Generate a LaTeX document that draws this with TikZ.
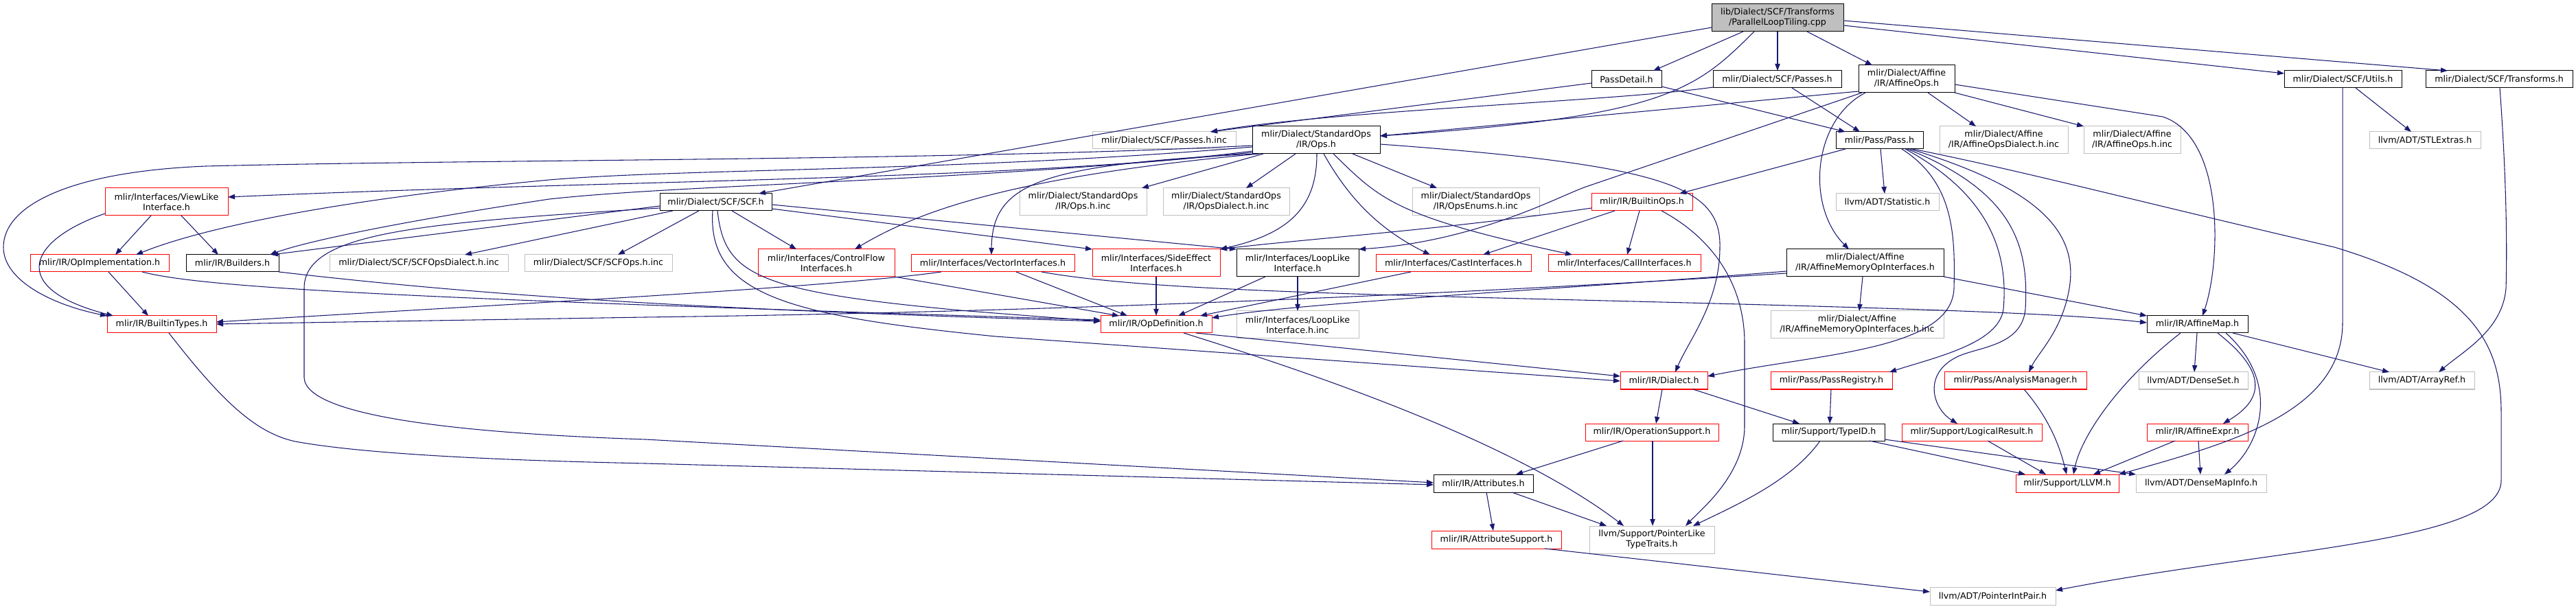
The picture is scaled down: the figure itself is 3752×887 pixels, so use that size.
\documentclass[tikz,border=0pt]{standalone}
\usepackage{fontspec}
\setmainfont{DejaVu Sans}
\usetikzlibrary{arrows.meta}
\definecolor{edgec}{HTML}{191970}
\definecolor{grey75}{HTML}{BFBFBF}
\newcommand\mybox[7]{\node[#6, minimum width={(#3-#2)*0.75pt}, minimum height={(#5-#4)*0.75pt}] (#1) at ({(#2+#3)/2},{(#4+#5)/2}) {#7};}
\tikzset{
  nb/.style={draw, line width=0.75pt, inner sep=0pt, outer sep=0pt, align=center, fill=white, font=\fontsize{9.5pt}{11.25pt}\selectfont},
  nk/.style={nb, draw=black},
  nr/.style={nb, draw=red},
  ng/.style={nb, draw=grey75},
  lnk/.style={draw=edgec, line width=0.8pt, -{Triangle[length=7.5pt,width=5.5pt]}}
}
\begin{document}
\begin{tikzpicture}[x=0.75pt, y=-0.75pt]
\useasboundingbox (0,0) rectangle (3752,887);
% nodes
\mybox{root}{2493}{2685}{6}{46}{nk,fill=grey75}{lib/Dialect/SCF/Transforms\\/ParallelLoopTiling.cpp}
\mybox{pdet}{2318}{2420}{103}{128}{nk}{PassDetail.h}
\mybox{scfpass}{2495}{2682}{103}{128}{nk}{mlir/Dialect/SCF/Passes.h}
\mybox{affops}{2707}{2847}{95}{135}{nk}{mlir/Dialect/Affine\\/IR/AffineOps.h}
\mybox{utils}{3327}{3498}{103}{128}{nk}{mlir/Dialect/SCF/Utils.h}
\mybox{transf}{3533}{3747}{103}{128}{nk}{mlir/Dialect/SCF/Transforms.h}
\mybox{passinc}{1591}{1800}{192}{217}{ng}{mlir/Dialect/SCF/Passes.h.inc}
\mybox{stdops}{1824}{2010}{184}{224}{nk}{mlir/Dialect/StandardOps\\/IR/Ops.h}
\mybox{pass}{2674}{2801}{192}{217}{nk}{mlir/Pass/Pass.h}
\mybox{affdinc}{2825}{3012}{184}{224}{ng}{mlir/Dialect/Affine\\/IR/AffineOpsDialect.h.inc}
\mybox{affinc}{3035}{3176}{184}{224}{ng}{mlir/Dialect/Affine\\/IR/AffineOps.h.inc}
\mybox{stlx}{3451}{3613}{192}{217}{ng}{llvm/ADT/STLExtras.h}
\mybox{viewlike}{153}{332}{274}{314}{nr}{mlir/Interfaces/ViewLike\\Interface.h}
\mybox{scf}{961}{1124}{282}{307}{nk}{mlir/Dialect/SCF/SCF.h}
\mybox{opsinc}{1485}{1670}{274}{314}{ng}{mlir/Dialect/StandardOps\\/IR/Ops.h.inc}
\mybox{opsdinc}{1694}{1878}{274}{314}{ng}{mlir/Dialect/StandardOps\\/IR/OpsDialect.h.inc}
\mybox{opseinc}{2057}{2242}{274}{314}{ng}{mlir/Dialect/StandardOps\\/IR/OpsEnums.h.inc}
\mybox{bops}{2318}{2465}{282}{307}{nr}{mlir/IR/BuiltinOps.h}
\mybox{stat}{2674}{2824}{282}{307}{ng}{llvm/ADT/Statistic.h}
\mybox{opimpl}{44}{246}{371}{396}{nr}{mlir/IR/OpImplementation.h}
\mybox{builders}{271}{406}{371}{396}{nk}{mlir/IR/Builders.h}
\mybox{scfdinc}{480}{740}{371}{396}{ng}{mlir/Dialect/SCF/SCFOpsDialect.h.inc}
\mybox{scfinc}{764}{979}{371}{396}{ng}{mlir/Dialect/SCF/SCFOps.h.inc}
\mybox{cflow}{1104}{1303}{363}{403}{nr}{mlir/Interfaces/ControlFlow\\Interfaces.h}
\mybox{vecif}{1327}{1565}{371}{396}{nr}{mlir/Interfaces/VectorInterfaces.h}
\mybox{sideeff}{1591}{1777}{363}{403}{nr}{mlir/Interfaces/SideEffect\\Interfaces.h}
\mybox{looplike}{1801}{1979}{363}{403}{nk}{mlir/Interfaces/LoopLike\\Interface.h}
\mybox{cast}{2004}{2230}{371}{396}{nr}{mlir/Interfaces/CastInterfaces.h}
\mybox{call}{2255}{2477}{371}{396}{nr}{mlir/Interfaces/CallInterfaces.h}
\mybox{amoi}{2602}{2831}{363}{403}{nk}{mlir/Dialect/Affine\\/IR/AffineMemoryOpInterfaces.h}
\mybox{btypes}{156}{315}{460}{485}{nr}{mlir/IR/BuiltinTypes.h}
\mybox{opdef}{1603}{1765}{460}{485}{nr}{mlir/IR/OpDefinition.h}
\mybox{loopinc}{1801}{1979}{453}{493}{ng}{mlir/Interfaces/LoopLike\\Interface.h.inc}
\mybox{amoiinc}{2579}{2831}{453}{493}{ng}{mlir/Dialect/Affine\\/IR/AffineMemoryOpInterfaces.h.inc}
\mybox{affmap}{3127}{3274}{460}{485}{nk}{mlir/IR/AffineMap.h}
\mybox{dialect}{2360}{2487}{542}{567}{nr}{mlir/IR/Dialect.h}
\mybox{passreg}{2579}{2756}{542}{567}{nr}{mlir/Pass/PassRegistry.h}
\mybox{anamgr}{2832}{3039}{542}{567}{nr}{mlir/Pass/AnalysisManager.h}
\mybox{denseset}{3115}{3274}{542}{567}{ng}{llvm/ADT/DenseSet.h}
\mybox{arrayref}{3451}{3604}{542}{567}{ng}{llvm/ADT/ArrayRef.h}
\mybox{opsupp}{2309}{2503}{617}{642}{nr}{mlir/IR/OperationSupport.h}
\mybox{typeid}{2582}{2745}{617}{642}{nk}{mlir/Support/TypeID.h}
\mybox{logres}{2770}{2974}{617}{642}{nr}{mlir/Support/LogicalResult.h}
\mybox{affexpr}{3127}{3274}{617}{642}{nr}{mlir/IR/AffineExpr.h}
\mybox{attrs}{2088}{2233}{691}{717}{nk}{mlir/IR/Attributes.h}
\mybox{llvm}{2936}{3086}{691}{717}{nr}{mlir/Support/LLVM.h}
\mybox{densemap}{3111}{3301}{691}{717}{ng}{llvm/ADT/DenseMapInfo.h}
\mybox{attrsupp}{2085}{2274}{773}{799}{nr}{mlir/IR/AttributeSupport.h}
\mybox{ptrlike}{2315}{2497}{766}{806}{ng}{llvm/Support/PointerLike\\TypeTraits.h}
\mybox{ptrint}{2811}{2994}{855}{881}{ng}{llvm/ADT/PointerIntPair.h}
% edges
\draw[lnk] (root.west |- 0,40) -- (scf.north -| 1105,0);
\draw[lnk] (root.south -| 2539,0) -- (pdet.north -| 2408,0);
\draw[lnk] (root.south -| 2555,0) .. controls (2470,130) and (2430,170) .. (stdops.east |- 0,198);
\draw[lnk] (root.south -| 2589,0) -- (scfpass.north -| 2589,0);
\draw[lnk] (root.south -| 2632,0) -- (affops.north -| 2727,0);
\draw[lnk] (root.east |- 0,37) -- (utils.west |- 0,107);
\draw[lnk] (root.east |- 0,30) -- (transf.north -| 3565,0);
\draw[lnk] (pdet.west |- 0,121) -- (passinc.north -| 1763,0);
\draw[lnk] (pdet.east |- 0,126) -- (pass.north -| 2688,0);
\draw[lnk] (scfpass.west |- 0,127) .. controls (2350,148) and (1950,160) .. (passinc.north -| 1763,0);
\draw[lnk] (scfpass.south -| 2610,0) -- (pass.north -| 2709,0);
\draw[lnk] (affops.west |- 0,133) -- (stdops.east |- 0,198);
\draw[lnk] (affops.south -| 2808,0) -- (affdinc.north -| 2878,0);
\draw[lnk] (affops.south east) -- (affinc.north west);
\draw[lnk] (affops.east |- 0,123) -- (3150,170) .. controls (3240,200) and (3235,380) .. (affmap.north -| 3208,0);
\draw[lnk] (affops.south -| 2717,0) .. controls (2640,175) and (2630,300) .. (amoi.north -| 2693,0);
\draw[lnk] (affops.south -| 2712,0) -- (2310,272) .. controls (2270,286) and (2150,352) .. (looplike.north east);
\draw[lnk] (utils.south -| 3431,0) -- (stlx.north -| 3512,0);
\draw[lnk] (utils.south -| 3412,0) -- (3412,470) .. controls (3412,600) and (3250,645) .. (llvm.north east);
\draw[lnk] (transf.south -| 3641,0) .. controls (3650,250) and (3652,350) .. (3650,420) .. controls (3645,480) and (3590,510) .. (arrayref.north -| 3552,0);
\draw[lnk] (pass.south -| 2688,0) -- (bops.north -| 2446,0);
\draw[lnk] (pass.south -| 2739,0) -- (stat.north -| 2745,0);
\draw[lnk] (pass.south -| 2770,0) .. controls (2845,265) and (2848,340) .. (2846,420) .. controls (2843,510) and (2650,515) .. (dialect.east |- 0,548);
\draw[lnk] (pass.south -| 2775,0) .. controls (2900,285) and (2925,370) .. (2918,450) .. controls (2912,500) and (2820,520) .. (passreg.north -| 2752,0);
\draw[lnk] (pass.south -| 2778,0) .. controls (2935,280) and (2955,360) .. (2950,450) .. controls (2945,505) and (2880,505) .. (2850,520) .. controls (2800,545) and (2815,595) .. (logres.north -| 2851,0);
\draw[lnk] (pass.south -| 2782,0) .. controls (2990,280) and (3030,350) .. (3012,430) .. controls (3000,485) and (2968,515) .. (anamgr.north -| 2955,0);
\draw[lnk] (pass.south -| 2786,0) .. controls (2950,250) and (3100,290) .. (3400,360) .. controls (3600,420) and (3643,500) .. (3643,600) -- (3643,700) .. controls (3643,790) and (3300,800) .. (ptrint.east |- 0,860);
\draw[lnk] (bops.west |- 0,303) .. controls (2100,335) and (1900,348) .. (sideeff.north east);
\draw[lnk] (bops.south -| 2352,0) -- (cast.north -| 2160,0);
\draw[lnk] (bops.south -| 2388,0) -- (call.north -| 2370,0);
\draw[lnk] (bops.south -| 2420,0) .. controls (2500,350) and (2541,420) .. (2541,500) -- (2541,620) .. controls (2541,690) and (2480,740) .. (ptrlike.north -| 2455,0);
\draw[lnk] (stdops.west |- 0,220) .. controls (1500,262) and (900,262) .. (viewlike.east |- 0,287);
\draw[lnk] (stdops.west |- 0,214) .. controls (1400,250) and (1000,245) .. (800,262) .. controls (500,290) and (300,330) .. (opimpl.north -| 198,0);
\draw[lnk] (stdops.west |- 0,222) .. controls (1400,265) and (1000,268) .. (800,290) .. controls (600,320) and (450,350) .. (builders.north -| 393,0);
\draw[lnk] (stdops.west |- 0,212) .. controls (1400,234) and (700,232) .. (300,242) .. controls (100,250) and (5,300) .. (5,360) .. controls (5,410) and (80,445) .. (btypes.north west);
\draw[lnk] (stdops.south -| 1887,0) -- (opsdinc.north -| 1815,0);
\draw[lnk] (stdops.south -| 1840,0) -- (opsinc.north -| 1663,0);
\draw[lnk] (stdops.south -| 1970,0) -- (opseinc.north -| 2093,0);
\draw[lnk] (stdops.south -| 1828,0) .. controls (1520,240) and (1445,265) .. (vecif.north -| 1444,0);
\draw[lnk] (stdops.south -| 1834,0) .. controls (1500,255) and (1350,300) .. (cflow.north -| 1245,0);
\draw[lnk] (stdops.south -| 1918,0) .. controls (1918,300) and (1880,340) .. (sideeff.north east);
\draw[lnk] (stdops.south -| 1928,0) .. controls (1965,290) and (2010,335) .. (cast.north -| 2083,0);
\draw[lnk] (stdops.south -| 1942,0) .. controls (2010,290) and (2030,315) .. (call.north -| 2290,0);
\draw[lnk] (stdops.east |- 0,210) .. controls (2420,240) and (2507,270) .. (2505,360) .. controls (2505,440) and (2460,495) .. (dialect.north -| 2440,0);
\draw[lnk] (scf.west |- 0,300) -- (builders.north -| 395,0);
\draw[lnk] (scf.west |- 0,303) .. controls (600,325) and (443,340) .. (443,420) -- (443,550) .. controls (445,610) and (700,632) .. (940,640) -- (attrs.west |- 0,703);
\draw[lnk] (scf.south -| 980,0) -- (scfdinc.north -| 677,0);
\draw[lnk] (scf.south -| 1018,0) -- (scfinc.north -| 900,0);
\draw[lnk] (scf.south -| 1066,0) -- (cflow.north -| 1160,0);
\draw[lnk] (scf.east |- 0,304) -- (sideeff.north west);
\draw[lnk] (scf.east |- 0,298) -- (looplike.north west);
\draw[lnk] (scf.south -| 1038,0) .. controls (1030,430) and (1150,460) .. (1450,490) -- (dialect.west |- 0,555);
\draw[lnk] (scf.south -| 1045,0) .. controls (1055,400) and (1100,425) .. (1410,453) -- (opdef.west |- 0,468);
\draw[lnk] (viewlike.south -| 220,0) -- (opimpl.north -| 168,0);
\draw[lnk] (viewlike.south -| 264,0) -- (builders.north -| 318,0);
\draw[lnk] (viewlike.west |- 0,311) .. controls (40,350) and (10,420) .. (btypes.north -| 165,0);
\draw[lnk] (opimpl.south -| 158,0) -- (btypes.north -| 216,0);
\draw[lnk] (opimpl.south -| 207,0) .. controls (300,420) and (600,435) .. (opdef.west |- 0,466);
\draw[lnk] (builders.south east) .. controls (700,430) and (1000,450) .. (opdef.west |- 0,468);
\draw[lnk] (vecif.south -| 1371,0) .. controls (1200,420) and (700,445) .. (btypes.east |- 0,469);
\draw[lnk] (vecif.south -| 1480,0) -- (opdef.north -| 1642,0);
\draw[lnk] (vecif.south -| 1517,0) .. controls (1650,420) and (1900,427) .. (2300,437) .. controls (2700,447) and (3000,455) .. (affmap.west |- 0,470);
\draw[lnk] (cflow.south east) -- (opdef.north -| 1630,0);
\draw[lnk] (sideeff.south) -- (opdef.north -| 1684,0);
\draw[lnk] (looplike.south -| 1843,0) -- (opdef.north -| 1716,0);
\draw[lnk] (looplike.south) -- (loopinc.north);
\draw[lnk] (cast.south -| 2055,0) -- (opdef.north -| 1748,0);
\draw[lnk] (amoi.west |- 0,395) .. controls (2300,420) and (1900,440) .. (opdef.east |- 0,463);
\draw[lnk] (amoi.west |- 0,398) .. controls (2100,430) and (1500,455) .. (940,462) -- (btypes.east |- 0,472);
\draw[lnk] (amoi.south -| 2713,0) -- (amoiinc.north -| 2708,0);
\draw[lnk] (amoi.south east) -- (affmap.north west);
\draw[lnk] (btypes.south -| 246,0) .. controls (320,580) and (370,630) .. (430,643) .. controls (550,665) and (800,672) .. (940,675) -- (attrs.west |- 0,706);
\draw[lnk] (opdef.south -| 1742,0) -- (dialect.west |- 0,548);
\draw[lnk] (opdef.south -| 1724,0) .. controls (1900,540) and (2200,640) .. (ptrlike.north -| 2365,0);
\draw[lnk] (dialect.south -| 2421,0) -- (opsupp.north -| 2412,0);
\draw[lnk] (dialect.south -| 2466,0) -- (typeid.north -| 2621,0);
\draw[lnk] (passreg.south -| 2667,0) -- (typeid.north -| 2665,0);
\draw[lnk] (opsupp.south -| 2364,0) -- (attrs.north -| 2208,0);
\draw[lnk] (opsupp.south -| 2407,0) -- (ptrlike.north -| 2407,0);
\draw[lnk] (typeid.south -| 2651,0) .. controls (2610,700) and (2530,735) .. (ptrlike.north -| 2466,0);
\draw[lnk] (typeid.south -| 2723,0) -- (llvm.north -| 2950,0);
\draw[lnk] (typeid.east |- 0,640) -- (densemap.north west);
\draw[lnk] (logres.south -| 2895,0) -- (llvm.north -| 2980,0);
\draw[lnk] (anamgr.south -| 2948,0) .. controls (2985,610) and (3000,650) .. (llvm.north -| 3010,0);
\draw[lnk] (affmap.south -| 3176,0) .. controls (3080,560) and (3030,640) .. (llvm.north -| 3020,0);
\draw[lnk] (affmap.south -| 3200,0) -- (denseset.north -| 3196,0);
\draw[lnk] (affmap.south -| 3230,0) .. controls (3300,540) and (3300,580) .. (affexpr.north -| 3238,0);
\draw[lnk] (affmap.south -| 3242,0) .. controls (3325,560) and (3290,650) .. (densemap.north -| 3240,0);
\draw[lnk] (affmap.south -| 3252,0) -- (arrayref.north -| 3480,0);
\draw[lnk] (affexpr.south -| 3168,0) -- (llvm.north -| 3049,0);
\draw[lnk] (affexpr.south -| 3202,0) -- (densemap.north -| 3205,0);
\draw[lnk] (attrs.south -| 2165,0) -- (attrsupp.north -| 2175,0);
\draw[lnk] (attrs.south -| 2202,0) -- (ptrlike.north -| 2340,0);
\draw[lnk] (attrsupp.south -| 2250,0) -- (ptrint.west |- 0,862);
\end{tikzpicture}
\end{document}
